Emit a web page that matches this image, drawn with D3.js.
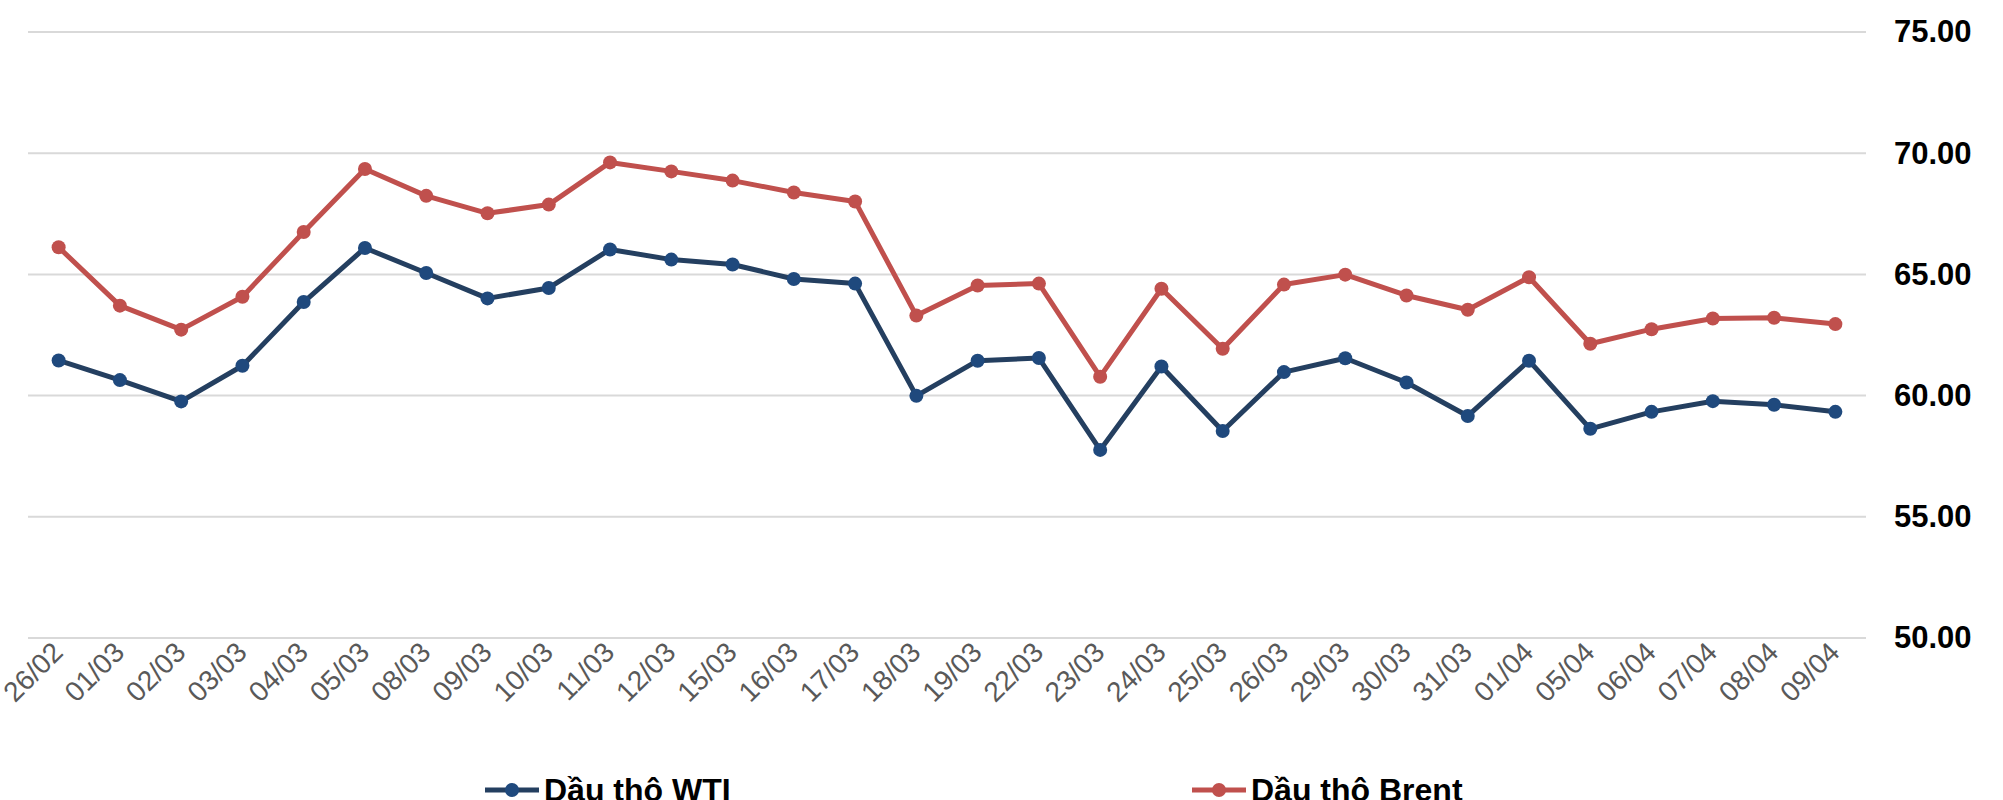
<!DOCTYPE html>
<html>
<head>
<meta charset="utf-8">
<script src="https://cdn.jsdelivr.net/npm/d3@7"></script>
<style>
    body { margin: 0; background: #fff; }
    .grid line { stroke: #d9d9d9; stroke-width: 2; }
    .x-label { font-family: 'Liberation Sans', Arial, sans-serif; font-size: 28px; fill: #595959; }
    .y-label { font-family: 'Liberation Sans', Arial, sans-serif; font-size: 31px; font-weight: bold; fill: #000; }
    .legend-text { font-family: 'Liberation Sans', Arial, sans-serif; font-size: 32px; font-weight: bold; fill: #000; }
</style>
</head>
<body>
<div class="chart"></div>
<script>
var dates = ['26/02', '01/03', '02/03', '03/03', '04/03', '05/03', '08/03', '09/03', '10/03', '11/03',
    '12/03', '15/03', '16/03', '17/03', '18/03', '19/03', '22/03', '23/03', '24/03', '25/03',
    '26/03', '29/03', '30/03', '31/03', '01/04', '05/04', '06/04', '07/04', '08/04', '09/04'];

var wti = [61.45, 60.64, 59.76, 61.23, 63.86, 66.09, 65.06, 64.01, 64.44, 66.03,
    65.61, 65.41, 64.81, 64.62, 59.99, 61.44, 61.55, 57.76, 61.20, 58.54,
    60.97, 61.54, 60.54, 59.16, 61.44, 58.63, 59.33, 59.77, 59.62, 59.33];

var brent = [66.12, 63.71, 62.72, 64.08, 66.75, 69.35, 68.24, 67.52, 67.88, 69.62,
    69.25, 68.87, 68.38, 68.01, 63.30, 64.54, 64.62, 60.78, 64.41, 61.93,
    64.58, 64.99, 64.13, 63.54, 64.88, 62.14, 62.74, 63.18, 63.21, 62.95];

var yTicks = [50, 55, 60, 65, 70, 75];

var seriesNames = ['Dầu thô WTI', 'Dầu thô Brent'];

(function () {
    var options = {
        width: 2003,
        height: 800,
        left: 28,
        right: 1866,
        top: 32,
        bottom: 638,
        markerRadius: 7
    };

    var series = [
        { name: seriesNames[0], values: wti, line: '#243f60', marker: '#1f497d', legendX: 485 },
        { name: seriesNames[1], values: brent, line: '#c0504d', marker: '#c0504d', legendX: 1192 }
    ];

    var svg = d3.select('.chart')
        .append('svg')
        .attr('width', options.width)
        .attr('height', options.height);

    var x = d3.scalePoint()
        .domain(dates)
        .range([options.left, options.right])
        .padding(0.5);

    var y = d3.scaleLinear()
        .domain([50, 75])
        .range([options.bottom, options.top]);

    // gridlines
    svg.append('g')
        .classed('grid', true)
        .selectAll('line')
        .data(yTicks)
        .enter()
        .append('line')
        .attr('x1', options.left)
        .attr('x2', options.right)
        .attr('y1', function (d) { return y(d); })
        .attr('y2', function (d) { return y(d); });

    // right axis labels
    var yAxis = d3.axisRight(y)
        .tickValues(yTicks)
        .tickSize(0)
        .tickPadding(0)
        .tickFormat(d3.format('.2f'));

    svg.append('g')
        .attr('transform', 'translate(1894, 0)')
        .call(yAxis)
        .call(function (g) { g.select('.domain').remove(); })
        .selectAll('text')
        .classed('y-label', true)
        .attr('font-family', null)
        .attr('font-size', null)
        .attr('fill', null);

    // category labels
    svg.append('g')
        .selectAll('text')
        .data(dates)
        .enter()
        .append('text')
        .classed('x-label', true)
        .attr('text-anchor', 'end')
        .attr('transform', function (d) {
            return 'translate(' + (x(d) + 6) + ', 654) rotate(-45)';
        })
        .text(function (d) { return d; });

    var line = d3.line()
        .x(function (d, i) { return x(dates[i]); })
        .y(function (d) { return y(d); });

    series.forEach(function (s) {
        var g = svg.append('g');

        g.append('path')
            .datum(s.values)
            .attr('fill', 'none')
            .attr('stroke', s.line)
            .attr('stroke-width', 5)
            .attr('stroke-linejoin', 'round')
            .attr('d', line);

        g.selectAll('circle')
            .data(s.values)
            .enter()
            .append('circle')
            .attr('cx', function (d, i) { return x(dates[i]); })
            .attr('cy', function (d) { return y(d); })
            .attr('r', options.markerRadius)
            .attr('fill', s.marker);

        // legend
        var legend = svg.append('g')
            .attr('transform', 'translate(' + s.legendX + ', 790)');

        legend.append('line')
            .attr('x1', 0)
            .attr('x2', 54)
            .attr('stroke', s.line)
            .attr('stroke-width', 5);

        legend.append('circle')
            .attr('cx', 27)
            .attr('r', options.markerRadius)
            .attr('fill', s.marker);

        legend.append('text')
            .classed('legend-text', true)
            .attr('x', 59)
            .attr('y', 11)
            .text(s.name);
    });
})();
</script>
</body>
</html>
